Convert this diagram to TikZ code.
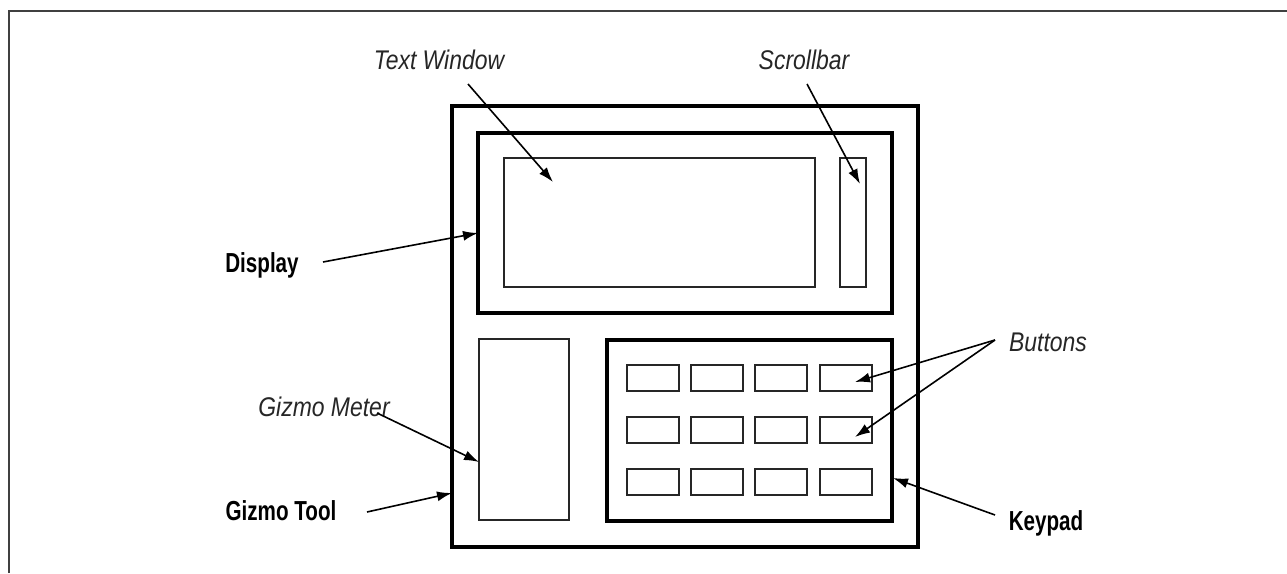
\documentclass[tikz,border=0pt]{standalone}
\usepackage{fontspec}
\setmainfont{Liberation Sans}
\newfontfamily\itlab{Liberation Sans}[FakeStretch=0.85]
\newfontfamily\bflab{Liberation Sans}[FakeStretch=0.75]
\usetikzlibrary{arrows.meta}
\tikzset{
  thickbox/.style={draw=black, line width=3.2pt, inner sep=0pt, fill=none},
  thinbox/.style={draw=black!85, line width=2pt, inner sep=0pt},
  btnbox/.style={thinbox, minimum width=52pt, minimum height=26pt},
  itlabel/.style={font={\itlab\itshape\fontsize{27}{30}\selectfont}, text=black!85, inner sep=0pt, anchor=base},
  bflabel/.style={font={\bflab\bfseries\fontsize{27.5}{30}\selectfont}, text=black, inner sep=0pt, anchor=base},
  pointer/.style={line width=1.6pt, -{Latex[length=15pt,width=10pt]}},
  framestyle/.style={draw=black!75, line width=2.2pt}
}
\begin{document}
\begin{tikzpicture}[x=1pt,y=-1pt]
\useasboundingbox (0,0) rectangle (1287,573);
% outer frame (open at right and bottom)
\coordinate (fbl) at (9,573);
\coordinate (ftl) at (9,11);
\coordinate (ftr) at (1287,11);
\draw[framestyle] (fbl) -- (ftl) -- (ftr);

% device and its parts
\node[thickbox, minimum width=466pt, minimum height=441pt] (device) at (685,326.5) {};
\node[thickbox, minimum width=414pt, minimum height=180pt] (display) at (685,223) {};
\node[thinbox, minimum width=311pt, minimum height=129pt] (textwin) at (659.5,222.5) {};
\node[thinbox, minimum width=26pt, minimum height=129pt] (scroll) at (853,222.5) {};
\node[thinbox, minimum width=90pt, minimum height=181pt] (meter) at (524,429.5) {};
\node[thickbox, minimum width=285pt, minimum height=181pt] (keypad) at (749.5,430.5) {};

% buttons
\node[btnbox] (b11) at (653,378) {};
\node[btnbox] (b12) at (717,378) {};
\node[btnbox] (b13) at (781,378) {};
\node[btnbox] (b14) at (846,378) {};
\node[btnbox] (b21) at (653,430) {};
\node[btnbox] (b22) at (717,430) {};
\node[btnbox] (b23) at (781,430) {};
\node[btnbox] (b24) at (846,430) {};
\node[btnbox] (b31) at (653,481.5) {};
\node[btnbox] (b32) at (717,481.5) {};
\node[btnbox] (b33) at (781,481.5) {};
\node[btnbox] (b34) at (846,481.5) {};

% labels
\node[itlabel] (ltw) at (439,69) {Text Window};
\node[itlabel] (lsb) at (804,69) {Scrollbar};
\node[itlabel] (lbt) at (1048,351) {Buttons};
\node[itlabel] (lgm) at (324,416) {Gizmo Meter};
\node[bflabel] (ldp) at (262,272) {Display};
\node[bflabel] (lgt) at (281,520) {Gizmo Tool};
\node[bflabel] (lkp) at (1046,530) {Keypad};

% arrow end points
\coordinate (tws) at (468,84);  \coordinate (twe) at (553,182);
\coordinate (sbs) at (807,84);  \coordinate (sbe) at (860,184);
\coordinate (dps) at (323,262); \coordinate (dpe) at (478,233);
\coordinate (gms) at (377,413); \coordinate (gme) at (479,462);
\coordinate (gts) at (367,512); \coordinate (gte) at (452,493);
\coordinate (bts) at (995,340);
\coordinate (bte1) at (855,382); \coordinate (bte2) at (855,437);
\coordinate (kps) at (995,515); \coordinate (kpe) at (893,478);

\draw[pointer] (tws) -- (twe);
\draw[pointer] (sbs) -- (sbe);
\draw[pointer] (dps) -- (dpe);
\draw[pointer] (gms) -- (gme);
\draw[pointer] (gts) -- (gte);
\draw[pointer] (bts) -- (bte1);
\draw[pointer] (bts) -- (bte2);
\draw[pointer] (kps) -- (kpe);
\end{tikzpicture}
\end{document}
